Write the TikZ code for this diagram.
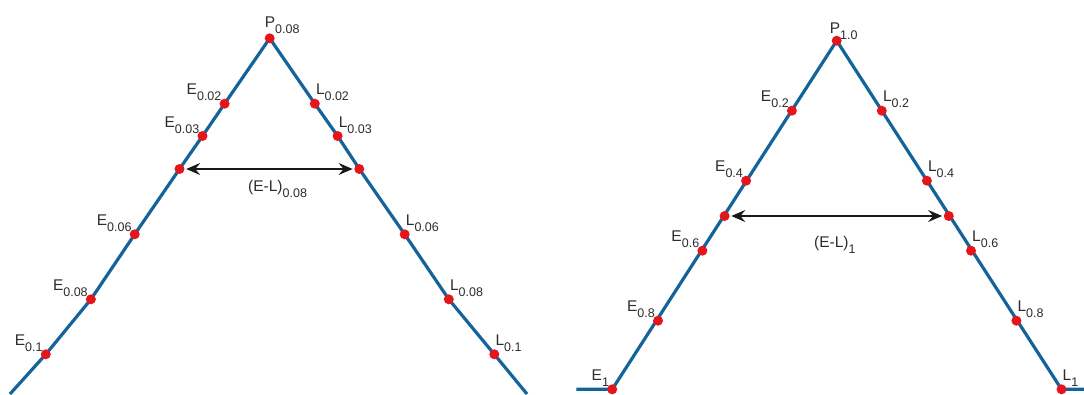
\documentclass[tikz,border=0pt]{standalone}
\usepackage{fontspec}
\setmainfont{Liberation Sans}
\usetikzlibrary{arrows.meta}
\definecolor{lineblue}{RGB}{20,100,155}
\definecolor{dotred}{RGB}{228,22,28}
\definecolor{txt}{RGB}{45,45,45}
\newcommand\sublab[2]{#1\raisebox{-6pt}{\fontsize{12.5}{12.5}\selectfont #2}}
\begin{document}
\begin{tikzpicture}[x=1pt,y=-1pt,
  leg/.style={draw=lineblue,line width=3.2pt,line join=round},
  pt/.style={circle,fill=dotred,inner sep=0pt,minimum size=10pt},
  lab/.style={inner sep=0pt,text=txt,font=\fontsize{15.5}{15.5}\selectfont},
  elab/.style={lab,anchor=base east},
  llab/.style={lab,anchor=base west},
  dim/.style={draw=black!90,line width=1.4pt,shorten <=1.5pt,shorten >=1.5pt,
    {Stealth[length=14pt,width=12pt,inset=5pt]}-{Stealth[length=14pt,width=12pt,inset=5pt]}}]
\useasboundingbox (0,0) rectangle (1084,394);
\clip (0,0) rectangle (1084,394);
\fill[white] (0,0) rectangle (1084,394);
% ---------- left triangle ----------
\coordinate (aP) at (269.7,38.3);
\coordinate (aE1) at (224.6,103.7);
\coordinate (aE2) at (202.5,136);
\coordinate (aEm) at (179.5,169);
\coordinate (aE3) at (134.7,234.3);
\coordinate (aE4) at (90.9,299.3);
\coordinate (aE5) at (45.8,354.3);
\coordinate (aEb) at (10,394);
\coordinate (aL1) at (314.8,103.7);
\coordinate (aL2) at (337.6,136);
\coordinate (aLm) at (359.3,169);
\coordinate (aL3) at (404.7,234.3);
\coordinate (aL4) at (448.8,299.3);
\coordinate (aL5) at (494.3,354.3);
\coordinate (aLb) at (527,394);
\draw[leg] (aEb) -- (aE5) -- (aE4) -- (aE3) -- (aEm) -- (aE2) -- (aE1) -- (aP)
  -- (aL1) -- (aL2) -- (aLm) -- (aL3) -- (aL4) -- (aL5) -- (aLb);
\foreach \n in {aP,aE1,aE2,aEm,aE3,aE4,aE5,aL1,aL2,aLm,aL3,aL4,aL5}
  \node[pt] (d\n) at (\n) {};
\draw[dim] (daEm) -- (daLm);
\node[llab] (taP) at ([shift={(-5,-11)}]aP) {\sublab{P}{0.08}};
\node[elab] (taE1) at ([shift={(-3,-9)}]aE1) {\sublab{E}{0.02}};
\node[elab] (taE2) at ([shift={(-3,-9)}]aE2) {\sublab{E}{0.03}};
\node[elab] (taE3) at ([shift={(-3,-9)}]aE3) {\sublab{E}{0.06}};
\node[elab] (taE4) at ([shift={(-3,-9)}]aE4) {\sublab{E}{0.08}};
\node[elab] (taE5) at ([shift={(-3,-9)}]aE5) {\sublab{E}{0.1}};
\node[llab] (taL1) at ([shift={(1,-9)}]aL1) {\sublab{L}{0.02}};
\node[llab] (taL2) at ([shift={(1,-9)}]aL2) {\sublab{L}{0.03}};
\node[llab] (taL3) at ([shift={(1,-9)}]aL3) {\sublab{L}{0.06}};
\node[llab] (taL4) at ([shift={(1,-9)}]aL4) {\sublab{L}{0.08}};
\node[llab] (taL5) at ([shift={(1,-9)}]aL5) {\sublab{L}{0.1}};
\node[llab] (taD) at (248,191.5) {\sublab{(E-L)}{0.08}};
% ---------- right triangle ----------
\coordinate (bP) at (836.7,40.7);
\coordinate (bE1) at (791.9,110.7);
\coordinate (bE2) at (746.1,180.7);
\coordinate (bEm) at (724.6,216);
\coordinate (bE3) at (702.4,250.7);
\coordinate (bE4) at (658,320.7);
\coordinate (bE5) at (612.2,389.3);
\coordinate (bEb) at (576.4,389.3);
\coordinate (bL1) at (881.8,110.7);
\coordinate (bL2) at (926.9,180.7);
\coordinate (bLm) at (948.8,216);
\coordinate (bL3) at (971,250.7);
\coordinate (bL4) at (1016.4,320.7);
\coordinate (bL5) at (1061.5,389.3);
\coordinate (bLb) at (1084,389.3);
\draw[leg] (bEb) -- (bE5) -- (bP) -- (bL5) -- (bLb);
\foreach \n in {bP,bE1,bE2,bEm,bE3,bE4,bE5,bL1,bL2,bLm,bL3,bL4,bL5}
  \node[pt] (d\n) at (\n) {};
\draw[dim] (dbEm) -- (dbLm);
\node[llab] (tbP) at ([shift={(-7,-7)}]bP) {\sublab{P}{1.0}};
\node[elab] (tbE1) at ([shift={(-3,-9)}]bE1) {\sublab{E}{0.2}};
\node[elab] (tbE2) at ([shift={(-3,-9)}]bE2) {\sublab{E}{0.4}};
\node[elab] (tbE3) at ([shift={(-3,-9)}]bE3) {\sublab{E}{0.6}};
\node[elab] (tbE4) at ([shift={(-3,-9)}]bE4) {\sublab{E}{0.8}};
\node[elab] (tbE5) at ([shift={(-3,-9)}]bE5) {\sublab{E}{1}};
\node[llab] (tbL1) at ([shift={(1,-9)}]bL1) {\sublab{L}{0.2}};
\node[llab] (tbL2) at ([shift={(1,-9)}]bL2) {\sublab{L}{0.4}};
\node[llab] (tbL3) at ([shift={(1,-9)}]bL3) {\sublab{L}{0.6}};
\node[llab] (tbL4) at ([shift={(1,-9)}]bL4) {\sublab{L}{0.8}};
\node[llab] (tbL5) at ([shift={(1,-9)}]bL5) {\sublab{L}{1}};
\node[llab] (tbD) at (814,247) {\sublab{(E-L)}{1}};
\end{tikzpicture}
\end{document}
